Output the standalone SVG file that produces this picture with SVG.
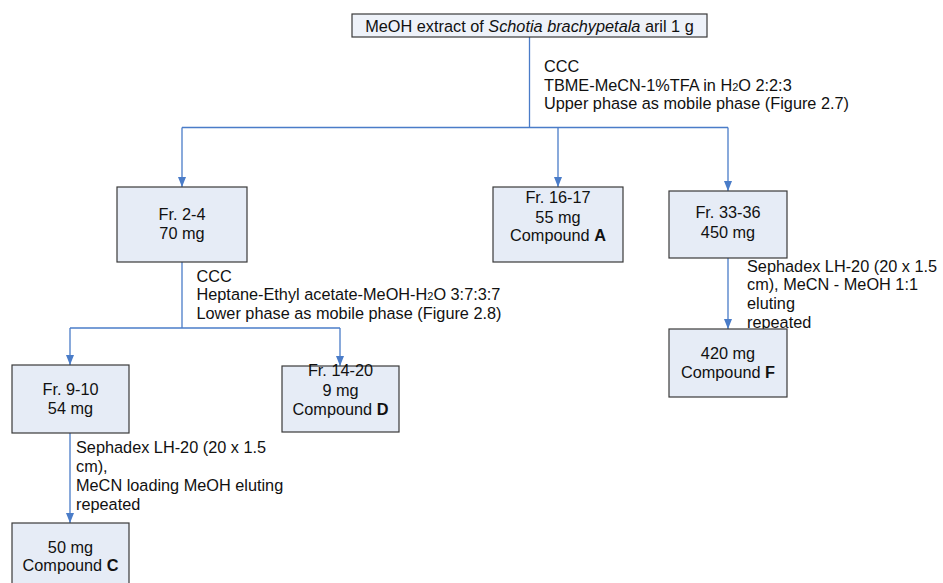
<svg xmlns="http://www.w3.org/2000/svg" width="943" height="583" viewBox="0 0 943 583">
<defs>
<marker id="arr" markerUnits="userSpaceOnUse" markerWidth="10" markerHeight="10" viewBox="0 0 10 10" refX="10" refY="5" orient="auto">
<path d="M0,1 L10,5 L0,9 Z" fill="#4a7cc8"/>
</marker>
<style>
text{font-family:"Liberation Sans",Arial,sans-serif;font-size:16.3px;fill:#111}
.box{fill:#e6ecf6;stroke:#3a3a3a;stroke-width:1.2}
.top{fill:#eef2f9;stroke:#3a3a3a;stroke-width:1.2}
.c{text-anchor:middle}
.ln{fill:none;stroke:#4a7cc8;stroke-width:1.3}
.sub{font-size:11px}
</style>
</defs>
<g id="connectors">
<path class="ln" d="M529.5,37 V127.5"/>
<path class="ln" d="M182,127.5 H728"/>
<path class="ln" d="M182,127.5 V187" marker-end="url(#arr)"/>
<path class="ln" d="M558,127.5 V187" marker-end="url(#arr)"/>
<path class="ln" d="M728,127.5 V191" marker-end="url(#arr)"/>
<path class="ln" d="M182,262 V328"/>
<path class="ln" d="M70,328 H340"/>
<path class="ln" d="M70,328 V365" marker-end="url(#arr)"/>
<path class="ln" d="M340,328 V366" marker-end="url(#arr)"/>
<path class="ln" d="M70,433 V523" marker-end="url(#arr)"/>
<path class="ln" d="M728,258 V329" marker-end="url(#arr)"/>
</g>
<g id="n-extract">
<rect class="top" x="352" y="14" width="355" height="23"/>
<text class="c" x="529.5" y="32">MeOH extract of <tspan font-style="italic">Schotia brachypetala</tspan> aril 1 g</text>
</g>
<g id="label-ccc1">
<text x="544" y="71.7">CCC</text>
<text x="544" y="90.5">TBME-MeCN-1%TFA in H<tspan class="sub">2</tspan>O 2:2:3</text>
<text x="544" y="108.5">Upper phase as mobile phase (Figure 2.7)</text>
</g>
<g id="n-fr2-4">
<rect class="box" x="117" y="187" width="130" height="75"/>
<text class="c" x="182" y="220">Fr. 2-4</text>
<text class="c" x="182" y="239">70 mg</text>
</g>
<g id="n-fr16-17">
<rect class="box" x="493" y="187" width="130" height="75"/>
<text class="c" x="558" y="203.3">Fr. 16-17</text>
<text class="c" x="558" y="222.5">55 mg</text>
<text class="c" x="558" y="241">Compound <tspan font-weight="bold">A</tspan></text>
</g>
<g id="n-fr33-36">
<rect class="box" x="669" y="191" width="118" height="67"/>
<text class="c" x="728" y="218.3">Fr. 33-36</text>
<text class="c" x="728" y="238.3">450 mg</text>
</g>
<g id="label-ccc2">
<text x="196.5" y="281.7">CCC</text>
<text x="196.5" y="300.3">Heptane-Ethyl acetate-MeOH-H<tspan class="sub">2</tspan>O 3:7:3:7</text>
<text x="196.5" y="319.3">Lower phase as mobile phase (Figure 2.8)</text>
</g>
<g id="label-seph1">
<text x="747" y="271.7">Sephadex LH-20 (20 x 1.5</text>
<text x="747" y="290.3">cm), MeCN - MeOH 1:1</text>
<text x="747" y="309.3">eluting</text>
<text x="747" y="328.3">repeated</text>
</g>
<g id="n-420">
<rect class="box" x="669" y="329" width="118" height="68"/>
<text class="c" x="728" y="359">420 mg</text>
<text class="c" x="728" y="377.7">Compound <tspan font-weight="bold">F</tspan></text>
</g>
<g id="n-fr9-10">
<rect class="box" x="12" y="365" width="117" height="68"/>
<text class="c" x="70.5" y="395">Fr. 9-10</text>
<text class="c" x="70.5" y="414.3">54 mg</text>
</g>
<g id="n-fr14-20">
<rect class="box" x="282" y="366" width="117" height="66"/>
<text class="c" x="340.5" y="376">Fr. 14-20</text>
<text class="c" x="340.5" y="395.7">9 mg</text>
<text class="c" x="340.5" y="415">Compound <tspan font-weight="bold">D</tspan></text>
</g>
<g id="label-seph2">
<text x="76" y="453.3">Sephadex LH-20 (20 x 1.5</text>
<text x="76" y="471.7">cm),</text>
<text x="76" y="491">MeCN loading MeOH eluting</text>
<text x="76" y="510">repeated</text>
</g>
<g id="n-50">
<rect class="box" x="12" y="523" width="117" height="68"/>
<text class="c" x="70.5" y="552.7">50 mg</text>
<text class="c" x="70.5" y="570.7">Compound <tspan font-weight="bold">C</tspan></text>
</g>
</svg>
